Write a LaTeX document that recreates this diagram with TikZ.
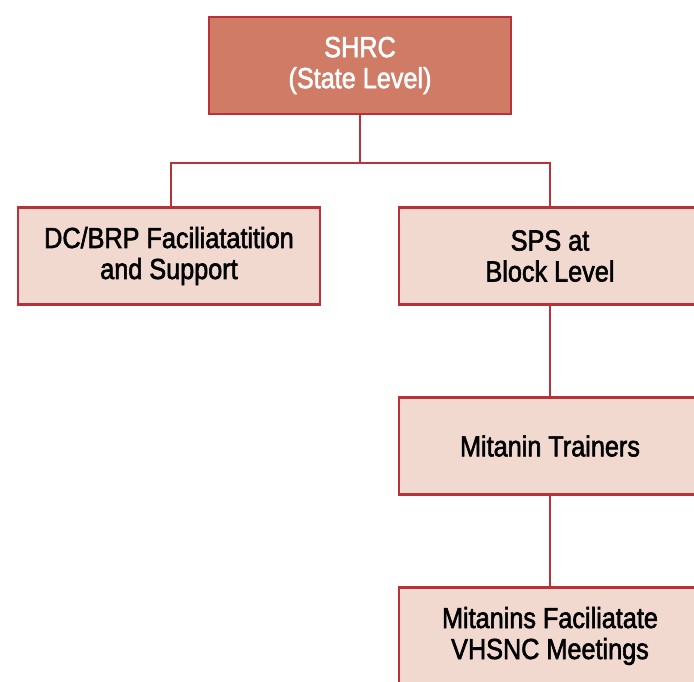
\documentclass[tikz,border=0pt]{standalone}
\usepackage{fontspec}
\setmainfont[FakeStretch=0.87,FakeBold=2]{Liberation Sans}
\definecolor{edgered}{HTML}{B8323A}
\definecolor{darkfill}{HTML}{CF7B66}
\definecolor{lightfill}{HTML}{F2D9CF}
\tikzset{
  box/.style={draw=edgered, line width=2.8pt, minimum width=302pt, minimum height=97pt, align=center, inner sep=0pt, font=\fontsize{29}{31}\selectfont},
  topbox/.style={box, fill=darkfill, text=white},
  lowbox/.style={box, fill=lightfill, text=black},
  link/.style={draw=edgered, line width=2.2pt}
}
\begin{document}
\begin{tikzpicture}[x=1pt,y=-1pt]
\useasboundingbox (0,0) rectangle (694,682);
\node[topbox] (shrc) at (360,65.5) {SHRC\\(State Level)};
\node[lowbox] (dc) at (169,256) {DC/BRP Faciliatatition\\and Support};
\node[lowbox] (sps) at (550,256) {SPS at\\Block Level};
\node[lowbox] (mt) at (550,446) {Mitanin Trainers};
\node[lowbox] (mf) at (550,636) {Mitanins Faciliatate\\VHSNC Meetings};
\coordinate (j) at (360,163);
\draw[link] (shrc.south) -- (j);
\draw[link] (dc.north -| 171,0) |- (j) -| (sps.north);
\draw[link] (sps.south) -- (mt.north);
\draw[link] (mt.south) -- (mf.north);
\end{tikzpicture}
\end{document}
